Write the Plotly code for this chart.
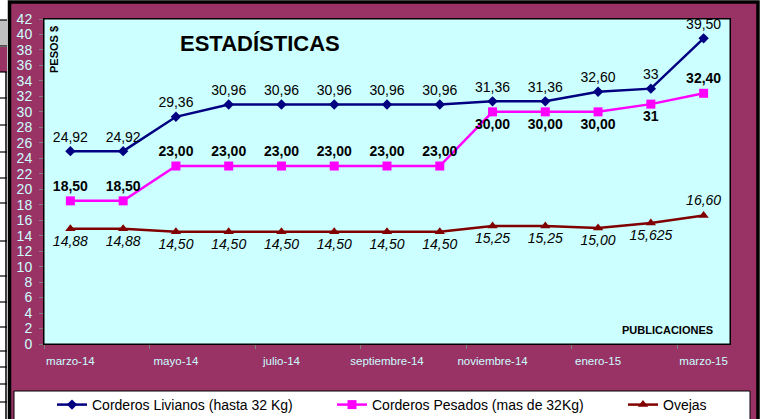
import plotly.graph_objects as go

months = ["marzo-14", "abril-14", "mayo-14", "junio-14", "julio-14", "agosto-14",
          "septiembre-14", "octubre-14", "noviembre-14", "diciembre-14", "enero-15",
          "febrero-15", "marzo-15"]
livianos = [24.92, 24.92, 29.36, 30.96, 30.96, 30.96, 30.96, 30.96, 31.36, 31.36, 32.60, 33, 39.50]
livianos_lbl = ["24,92", "24,92", "29,36", "30,96", "30,96", "30,96", "30,96", "30,96",
                "31,36", "31,36", "32,60", "33", "39,50"]
pesados = [18.50, 18.50, 23.00, 23.00, 23.00, 23.00, 23.00, 23.00, 30.00, 30.00, 30.00, 31, 32.40]
pesados_lbl = ["18,50", "18,50", "23,00", "23,00", "23,00", "23,00", "23,00", "23,00",
               "30,00", "30,00", "30,00", "31", "32,40"]
ovejas = [14.88, 14.88, 14.50, 14.50, 14.50, 14.50, 14.50, 14.50, 15.25, 15.25, 15.00, 15.625, 16.60]
ovejas_lbl = ["14,88", "14,88", "14,50", "14,50", "14,50", "14,50", "14,50", "14,50",
              "15,25", "15,25", "15,00", "15,625", "16,60"]
series_names = ["Corderos Livianos (hasta 32 Kg)", "Corderos Pesados (mas de 32Kg)", "Ovejas"]
tick_idx = list(range(0, len(months), 2))
tick_txt = [months[i] for i in tick_idx]

W, H = 763, 419
ML, MR, MT, MB = 44, 33, 19, 75
PW, PH = W - ML - MR, H - MT - MB

def xp(px):
    return (px - ML) / PW

def yp(py):
    return (H - MB - py) / PH

MAROON = "#993366"
CYAN = "#CCFFFF"
FONT = "Arial, Liberation Sans"
x = list(range(len(months)))

fig = go.Figure()
fig.add_trace(go.Scatter(
    x=x, y=livianos, name=series_names[0], mode="lines+markers+text",
    line=dict(color="#000080", width=2.5),
    marker=dict(symbol="diamond", size=8, color="#000080"),
    text=livianos_lbl, textposition="top center",
    textfont=dict(family=FONT, size=14, color="black"),
    legend="legend", cliponaxis=False))
pes_pos = ["top center"] * 8 + ["bottom center"] * 4 + ["top center"]
fig.add_trace(go.Scatter(
    x=x, y=pesados, name=series_names[1], mode="lines+markers+text",
    line=dict(color="#FF00FF", width=2.5),
    marker=dict(symbol="square", size=9, color="#FF00FF"),
    text=["<b>%s</b>" % t for t in pesados_lbl], textposition=pes_pos,
    textfont=dict(family=FONT, size=14, color="black"),
    legend="legend2", cliponaxis=False))
ov_pos = ["bottom center"] * 12 + ["top center"]
fig.add_trace(go.Scatter(
    x=x, y=ovejas, name=series_names[2], mode="lines+markers+text",
    line=dict(color="#800000", width=2.5),
    marker=dict(symbol="triangle-up", size=9, color="#800000"),
    text=["<i>%s</i>" % t for t in ovejas_lbl], textposition=ov_pos,
    textfont=dict(family=FONT, size=14, color="black"),
    legend="legend3", cliponaxis=False))

shapes = []
# left strip artifacts
shapes.append(dict(type="rect", xref="paper", yref="paper", x0=xp(0), x1=xp(7), y0=yp(20), y1=yp(46),
                   fillcolor="#C0C0C0", line=dict(width=0), layer="below"))
shapes.append(dict(type="rect", xref="paper", yref="paper", x0=xp(0), x1=xp(7), y0=yp(47), y1=yp(72),
                   fillcolor=MAROON, line=dict(width=0), layer="below"))
for yy in [20, 46, 72, 98, 125, 152, 178, 203, 241, 276, 302, 327, 351, 367, 384, 402]:
    shapes.append(dict(type="line", xref="paper", yref="paper", x0=xp(0), x1=xp(7), y0=yp(yy), y1=yp(yy),
                       line=dict(color="black", width=1.2), layer="below"))
shapes.append(dict(type="line", xref="paper", yref="paper", x0=xp(6), x1=xp(6), y0=yp(72), y1=yp(425),
                   line=dict(color="black", width=1.5), layer="below"))
# outer frame
shapes.append(dict(type="rect", xref="paper", yref="paper", x0=xp(9.5), x1=xp(758), y0=yp(430), y1=yp(2),
                   fillcolor=MAROON, line=dict(color="black", width=3.5), layer="below"))
# plot area
shapes.append(dict(type="rect", xref="paper", yref="paper", x0=0, x1=1, y0=0, y1=1,
                   fillcolor=CYAN, line=dict(color="black", width=1), layer="below"))
# legend box
shapes.append(dict(type="rect", xref="paper", yref="paper", x0=xp(14), x1=xp(750), y0=yp(440), y1=yp(391),
                   fillcolor="white", line=dict(color="black", width=1), layer="below"))

legfont = dict(family=FONT, size=14, color="black")
leg_common = dict(orientation="h", xanchor="left", yanchor="middle", y=yp(405),
                  bgcolor="rgba(0,0,0,0)", borderwidth=0, font=legfont)

fig.update_layout(
    width=W, height=H,
    margin=dict(l=ML, r=MR, t=MT, b=MB, pad=0, autoexpand=False),
    paper_bgcolor="white", plot_bgcolor="rgba(0,0,0,0)",
    showlegend=True,
    legend=dict(x=xp(52), **leg_common),
    legend2=dict(x=xp(332), **leg_common),
    legend3=dict(x=xp(623), **leg_common),
    shapes=shapes,
    xaxis=dict(range=[-0.5, len(months) - 0.5], tickmode="array", tickvals=tick_idx, ticktext=tick_txt,
               ticks="", showgrid=False, zeroline=False, showline=True, linecolor="black", linewidth=1,
               mirror=True, tickfont=dict(family=FONT, size=11.5, color=CYAN),
               minor=dict(tickmode="array", tickvals=[i - 0.5 for i in tick_idx], ticks="outside",
                          ticklen=4, tickcolor="#808080", tickwidth=1, showgrid=False),
               ticklabelstandoff=6),
    yaxis=dict(range=[0, 42], dtick=2, tick0=0, ticks="outside", ticklen=4, tickcolor="#808080",
               showgrid=False, zeroline=False, showline=True, linecolor="black", linewidth=1, mirror=True,
               tickfont=dict(family=FONT, size=14, color=CYAN), ticklabelstandoff=4),
    annotations=[
        dict(text="<b>ESTADÍSTICAS</b>", xref="paper", yref="paper", x=xp(260), y=yp(43),
             xanchor="center", yanchor="middle", showarrow=False,
             font=dict(family=FONT, size=22, color="black")),
        dict(text="<b>PESOS $</b>", xref="paper", yref="paper", x=xp(54), y=yp(50), textangle=-90,
             xanchor="center", yanchor="middle", showarrow=False,
             font=dict(family=FONT, size=11, color="black")),
        dict(text="<b>PUBLICACIONES</b>", xref="paper", yref="paper", x=xp(715), y=yp(330),
             xanchor="right", yanchor="middle", showarrow=False,
             font=dict(family=FONT, size=11, color="black")),
    ],
)

fig.write_html("out.html", config={"displayModeBar": False},
               post_script="document.body.style.margin='0';document.body.style.overflow='hidden';")
